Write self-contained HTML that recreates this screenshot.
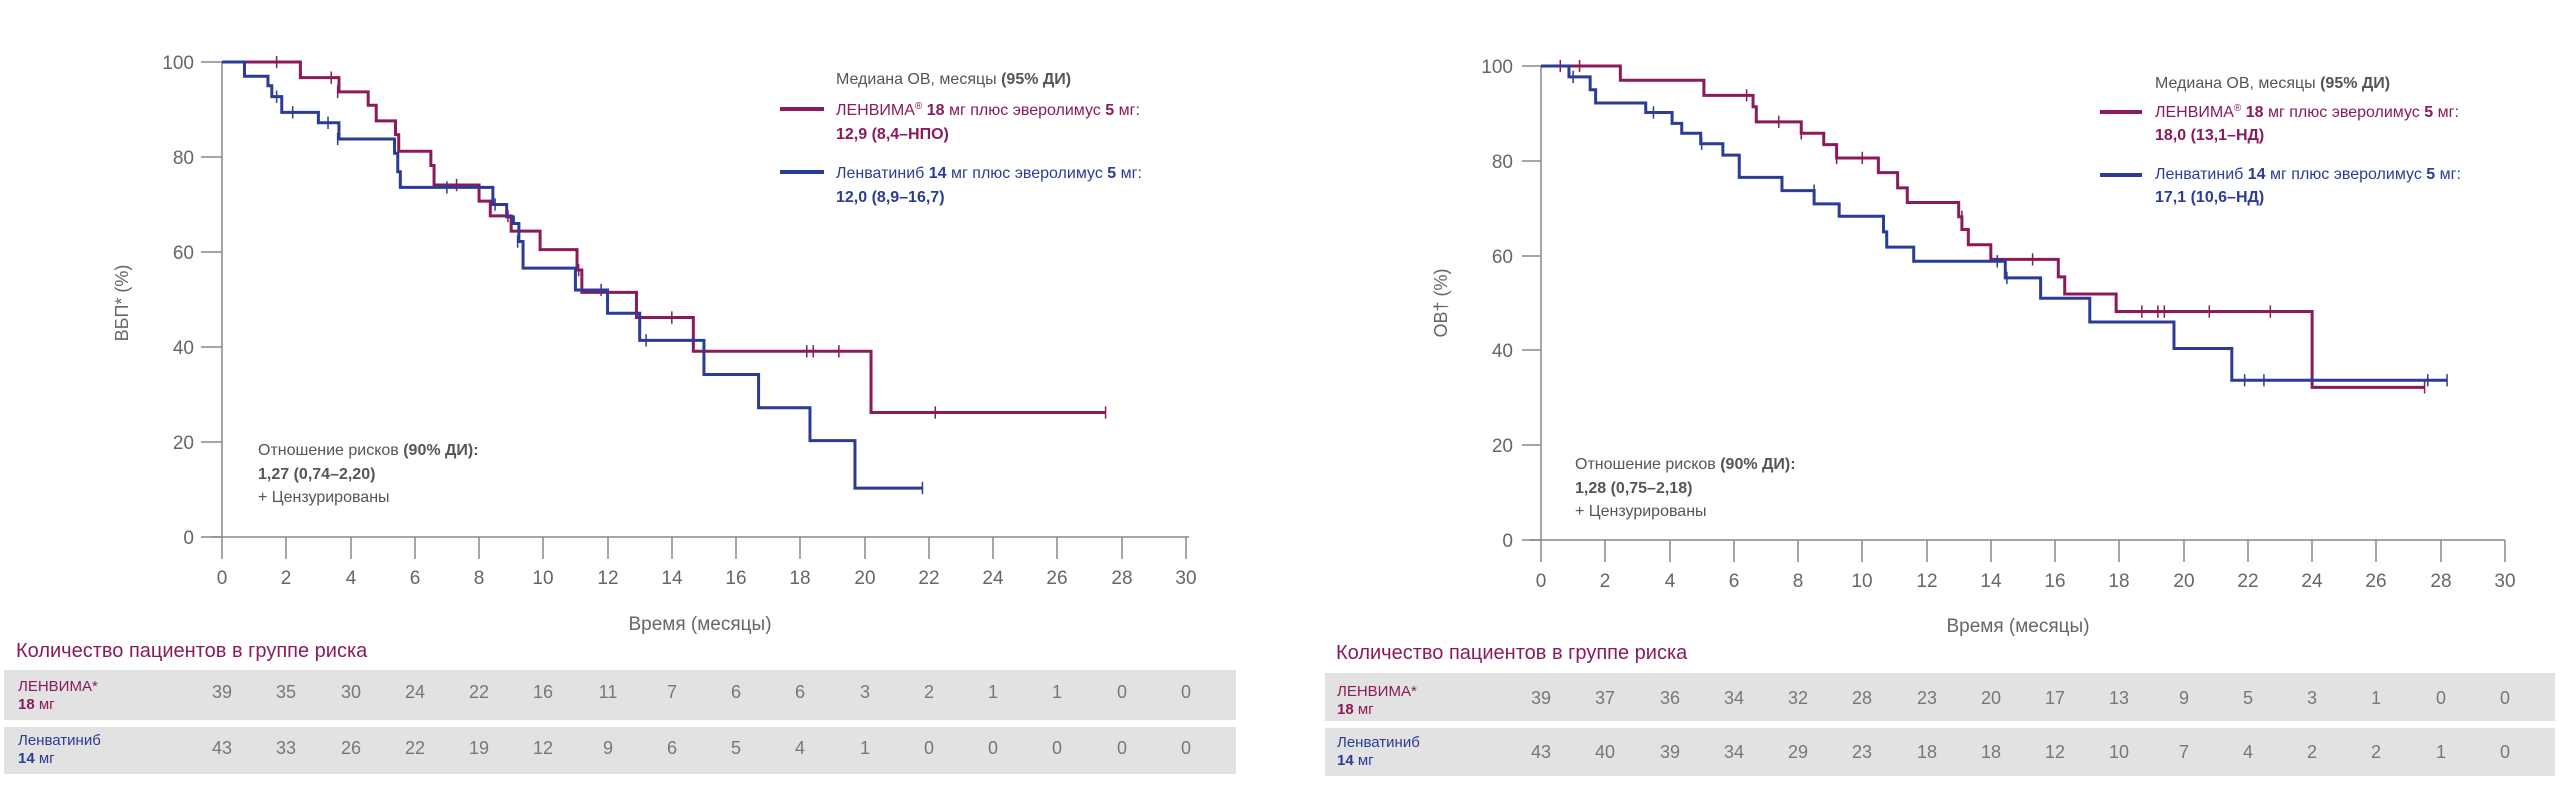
<!DOCTYPE html>
<html><head><meta charset="utf-8"><style>
html,body{margin:0;padding:0;background:#fff;}
svg{display:block;font-family:"Liberation Sans",sans-serif;}
.t{fill:#666;font-size:19px;}
.g{fill:#555;font-size:16px;}
.r{fill:#8b1a5b;font-size:16px;}
.b{fill:#2a3c98;font-size:16px;}
.n{fill:#777;font-size:18px;text-anchor:middle;}
.ax{stroke:#888;stroke-width:1.5;fill:none;}
.sr{stroke:#8b1a5b;stroke-width:3;fill:none;vector-effect:non-scaling-stroke;}
.sb{stroke:#2a3c98;stroke-width:3;fill:none;vector-effect:non-scaling-stroke;}
.cr{stroke:#8b1a5b;stroke-width:1.5;fill:none;vector-effect:non-scaling-stroke;}
.cb{stroke:#2a3c98;stroke-width:1.5;fill:none;vector-effect:non-scaling-stroke;}
</style></head><body>
<svg width="2561" height="791" viewBox="0 0 2561 791">
<!-- LEFT CHART -->
<g>
<path class="ax" d="M222,62 V537 M211,537 H1189"/>
<g class="ax">
<path d="M201,62H222M201,157H222M201,252H222M201,347H222M201,442H222M201,537H222"/>
<path d="M222,537v22M286,537v22M351,537v22M415,537v22M479,537v22M543,537v22M608,537v22M672,537v22M736,537v22M800,537v22M865,537v22M929,537v22M993,537v22M1057,537v22M1122,537v22M1186,537v22"/>
</g>
<g class="t" text-anchor="end">
<text x="194" y="69">100</text><text x="194" y="164">80</text><text x="194" y="259">60</text><text x="194" y="354">40</text><text x="194" y="449">20</text><text x="194" y="544">0</text>
</g>
<g class="t" text-anchor="middle">
<text x="222" y="584">0</text><text x="286" y="584">2</text><text x="351" y="584">4</text><text x="415" y="584">6</text><text x="479" y="584">8</text><text x="543" y="584">10</text><text x="608" y="584">12</text><text x="672" y="584">14</text><text x="736" y="584">16</text><text x="800" y="584">18</text><text x="865" y="584">20</text><text x="929" y="584">22</text><text x="993" y="584">24</text><text x="1057" y="584">26</text><text x="1122" y="584">28</text><text x="1186" y="584">30</text>
<text x="700" y="630">Время (месяцы)</text>
</g>
<text class="t" transform="translate(128,303) rotate(-90)" text-anchor="middle" style="font-size:18px">ВБП* (%)</text>
<g transform="translate(222,537) scale(32.13,-4.75)">
<path class="sr" d="M0,100H2.44V96.7H3.64V93.7H4.55V90.9H4.8V87.6H5.4V84.7H5.5V81.2H6.5V78.2H6.6V74.1H8V70.7H8.35V67.6H9V64.4H9.9V60.5H11.05V56.2H11.2V51.5H12.9V46.2H14.67V39.1H20.2V26.2H27.5"/>
<path class="sb" d="M0,100H0.7V97H1.43V95H1.55V92.7H1.86V89.4H3V87.2H3.64V83.8H5.37V80.8H5.47V76.9H5.55V73.6H8.43V70H8.86V67.4H9.07V66H9.24V62.2H9.37V56.6H11V52H12V47.1H13V41.4H15V34.2H16.7V27.2H18.3V20.3H19.7V10.3H21.8"/>
<path class="cr" d="M1.7,98.7v2.6M3.4,95.4v2.6M3.6,92.4v2.6M7.3,72.8v2.6M8.9,66.3v2.6M11.1,54.9v2.6M14,44.9v2.6M18.2,37.8v2.6M18.4,37.8v2.6M19.2,37.8v2.6M22.2,24.9v2.6M27.5,24.9v2.6"/>
<path class="cb" d="M1.7,91.4v2.6M2.2,88.1v2.6M3.3,85.9v2.6M3.6,82.5v2.6M7,72.3v2.6M8.5,68.7v2.6M9.2,60.9v2.6M11.8,50.7v2.6M13.2,40.1v2.6M21.8,9v2.6"/>
</g>
<text class="g" x="836" y="84">Медиана ОВ, месяцы <tspan font-weight="bold">(95% ДИ)</tspan></text>
<path d="M780,109H824" stroke="#8b1a5b" stroke-width="4"/>
<text class="r" x="836" y="115">ЛЕНВИМА<tspan font-size="10" dy="-6">®</tspan><tspan dy="6"> </tspan><tspan font-weight="bold">18</tspan> мг плюс эверолимус <tspan font-weight="bold">5</tspan> мг:</text>
<text class="r" x="836" y="139" font-weight="bold">12,9 (8,4–НПО)</text>
<path d="M780,172H824" stroke="#2a3c98" stroke-width="4"/>
<text class="b" x="836" y="178">Ленватиниб <tspan font-weight="bold">14</tspan> мг плюс эверолимус <tspan font-weight="bold">5</tspan> мг:</text>
<text class="b" x="836" y="202" font-weight="bold">12,0 (8,9–16,7)</text>
<text class="g" x="258" y="455">Отношение рисков <tspan font-weight="bold">(90% ДИ):</tspan></text>
<text class="g" x="258" y="479" font-weight="bold">1,27 (0,74–2,20)</text>
<text class="g" x="258" y="502">+ Цензурированы</text>
<text x="16" y="657" fill="#8b1a5b" font-size="20">Количество пациентов в группе риска</text>
<rect x="4" y="670" width="1232" height="50" fill="#e2e2e2"/>
<rect x="4" y="727" width="1232" height="47" fill="#e2e2e2"/>
<text class="r" x="18" y="691" style="font-size:15px">ЛЕНВИМА*</text>
<text class="r" x="18" y="709" style="font-size:15px"><tspan font-weight="bold">18</tspan> мг</text>
<text class="b" x="18" y="745" style="font-size:15px">Ленватиниб</text>
<text class="b" x="18" y="763" style="font-size:15px"><tspan font-weight="bold">14</tspan> мг</text>
<g class="n">
<text x="222" y="698">39</text><text x="286" y="698">35</text><text x="351" y="698">30</text><text x="415" y="698">24</text><text x="479" y="698">22</text><text x="543" y="698">16</text><text x="608" y="698">11</text><text x="672" y="698">7</text><text x="736" y="698">6</text><text x="800" y="698">6</text><text x="865" y="698">3</text><text x="929" y="698">2</text><text x="993" y="698">1</text><text x="1057" y="698">1</text><text x="1122" y="698">0</text><text x="1186" y="698">0</text>
<text x="222" y="754">43</text><text x="286" y="754">33</text><text x="351" y="754">26</text><text x="415" y="754">22</text><text x="479" y="754">19</text><text x="543" y="754">12</text><text x="608" y="754">9</text><text x="672" y="754">6</text><text x="736" y="754">5</text><text x="800" y="754">4</text><text x="865" y="754">1</text><text x="929" y="754">0</text><text x="993" y="754">0</text><text x="1057" y="754">0</text><text x="1122" y="754">0</text><text x="1186" y="754">0</text>
</g>
</g>
<!-- RIGHT CHART -->
<g>
<path class="ax" d="M1541,66 V540 M1530,540 H2505"/>
<g class="ax">
<path d="M1522,66H1541M1522,161H1541M1522,256H1541M1522,350H1541M1522,445H1541M1522,540H1541"/>
<path d="M1541,540v22M1605,540v22M1670,540v22M1734,540v22M1798,540v22M1862,540v22M1927,540v22M1991,540v22M2055,540v22M2119,540v22M2184,540v22M2248,540v22M2312,540v22M2376,540v22M2441,540v22M2505,540v22"/>
</g>
<g class="t" text-anchor="end">
<text x="1513" y="73">100</text><text x="1513" y="168">80</text><text x="1513" y="263">60</text><text x="1513" y="357">40</text><text x="1513" y="452">20</text><text x="1513" y="547">0</text>
</g>
<g class="t" text-anchor="middle">
<text x="1541" y="587">0</text><text x="1605" y="587">2</text><text x="1670" y="587">4</text><text x="1734" y="587">6</text><text x="1798" y="587">8</text><text x="1862" y="587">10</text><text x="1927" y="587">12</text><text x="1991" y="587">14</text><text x="2055" y="587">16</text><text x="2119" y="587">18</text><text x="2184" y="587">20</text><text x="2248" y="587">22</text><text x="2312" y="587">24</text><text x="2376" y="587">26</text><text x="2441" y="587">28</text><text x="2505" y="587">30</text>
<text x="2018" y="632">Время (месяцы)</text>
</g>
<text class="t" transform="translate(1447,303) rotate(-90)" text-anchor="middle" style="font-size:18px">ОВ† (%)</text>
<g transform="translate(1541,540) scale(32.13,-4.74)">
<path class="sr" d="M0,100H2.47V97H5.07V93.8H6.6V91.4H6.7V88.2H8.1V85.8H8.8V83.4H9.2V80.6H10.5V77.5H11.1V74.3H11.4V71.2H13V68.2H13.1V65.5H13.3V62.3H14V59.2H16.1V55.5H16.3V51.9H17.9V48.2H24V32.2H27.5"/>
<path class="sb" d="M0,100H0.87V97.7H1.53V95H1.7V92.2H3.26V90.2H4.08V87.9H4.38V85.8H4.97V83.6H5.66V81.2H6.17V76.5H7.5V73.7H8.5V70.9H9.28V68.3H10.66V65H10.76V61.8H11.6V58.8H14.45V55.3H15.55V51H17.08V46H19.7V40.4H21.5V33.7H28.2"/>
<path class="cr" d="M0.6,98.7v2.6M1.2,98.7v2.6M6.4,92.5v2.6M7.4,86.9v2.6M8.1,84.5v2.6M9.2,79.3v2.6M10,79.3v2.6M13.1,66.9v2.6M15.3,57.9v2.6M18.7,46.9v2.6M19.2,46.9v2.6M19.4,46.9v2.6M20.8,46.9v2.6M22.7,46.9v2.6M27.5,30.9v2.6"/>
<path class="cb" d="M1,96.4v2.6M3.5,88.9v2.6M5,82.3v2.6M8.5,72.4v2.6M14.2,57.5v2.6M14.5,54v2.6M21.9,32.4v2.6M22.5,32.4v2.6M27.6,32.4v2.6M28.2,32.4v2.6"/>
</g>
<text class="g" x="2155" y="88">Медиана ОВ, месяцы <tspan font-weight="bold">(95% ДИ)</tspan></text>
<path d="M2100,112H2142" stroke="#8b1a5b" stroke-width="4"/>
<text class="r" x="2155" y="117">ЛЕНВИМА<tspan font-size="10" dy="-6">®</tspan><tspan dy="6"> </tspan><tspan font-weight="bold">18</tspan> мг плюс эверолимус <tspan font-weight="bold">5</tspan> мг:</text>
<text class="r" x="2155" y="140" font-weight="bold">18,0 (13,1–НД)</text>
<path d="M2100,175H2142" stroke="#2a3c98" stroke-width="4"/>
<text class="b" x="2155" y="179">Ленватиниб <tspan font-weight="bold">14</tspan> мг плюс эверолимус <tspan font-weight="bold">5</tspan> мг:</text>
<text class="b" x="2155" y="202" font-weight="bold">17,1 (10,6–НД)</text>
<text class="g" x="1575" y="469">Отношение рисков <tspan font-weight="bold">(90% ДИ):</tspan></text>
<text class="g" x="1575" y="493" font-weight="bold">1,28 (0,75–2,18)</text>
<text class="g" x="1575" y="516">+ Цензурированы</text>
<text x="1336" y="659" fill="#8b1a5b" font-size="20">Количество пациентов в группе риска</text>
<rect x="1325" y="673" width="1230" height="48" fill="#e2e2e2"/>
<rect x="1325" y="728" width="1230" height="48" fill="#e2e2e2"/>
<text class="r" x="1337" y="696" style="font-size:15px">ЛЕНВИМА*</text>
<text class="r" x="1337" y="714" style="font-size:15px"><tspan font-weight="bold">18</tspan> мг</text>
<text class="b" x="1337" y="747" style="font-size:15px">Ленватиниб</text>
<text class="b" x="1337" y="765" style="font-size:15px"><tspan font-weight="bold">14</tspan> мг</text>
<g class="n">
<text x="1541" y="704">39</text><text x="1605" y="704">37</text><text x="1670" y="704">36</text><text x="1734" y="704">34</text><text x="1798" y="704">32</text><text x="1862" y="704">28</text><text x="1927" y="704">23</text><text x="1991" y="704">20</text><text x="2055" y="704">17</text><text x="2119" y="704">13</text><text x="2184" y="704">9</text><text x="2248" y="704">5</text><text x="2312" y="704">3</text><text x="2376" y="704">1</text><text x="2441" y="704">0</text><text x="2505" y="704">0</text>
<text x="1541" y="758">43</text><text x="1605" y="758">40</text><text x="1670" y="758">39</text><text x="1734" y="758">34</text><text x="1798" y="758">29</text><text x="1862" y="758">23</text><text x="1927" y="758">18</text><text x="1991" y="758">18</text><text x="2055" y="758">12</text><text x="2119" y="758">10</text><text x="2184" y="758">7</text><text x="2248" y="758">4</text><text x="2312" y="758">2</text><text x="2376" y="758">2</text><text x="2441" y="758">1</text><text x="2505" y="758">0</text>
</g>
</g>
</svg>
</body></html>
